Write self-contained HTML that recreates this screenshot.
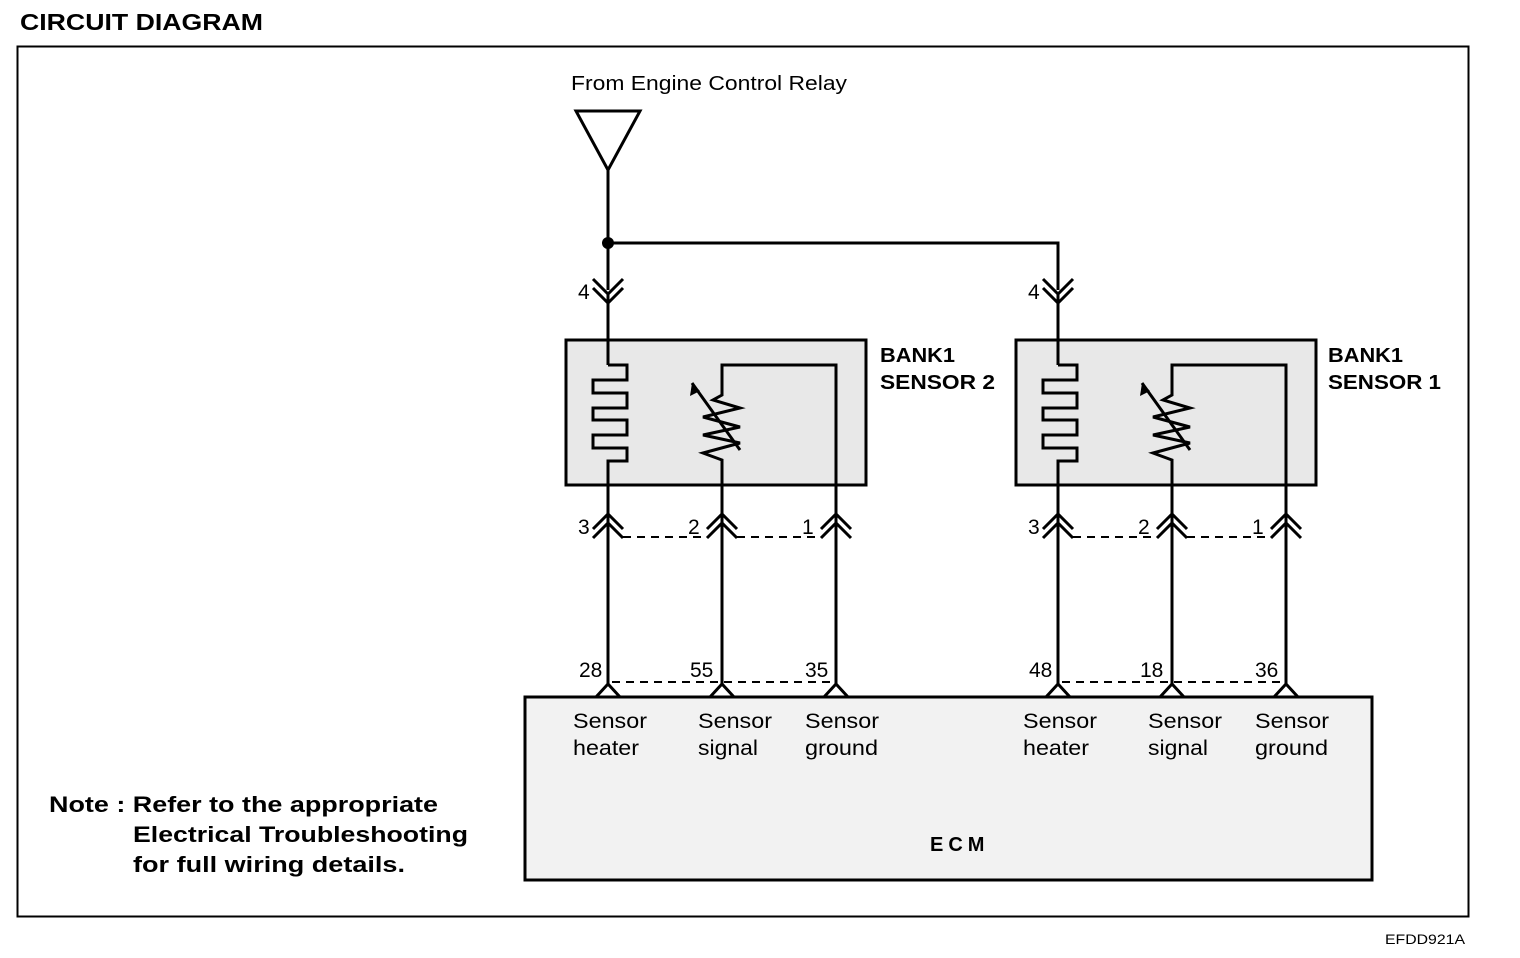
<!DOCTYPE html>
<html><head><meta charset="utf-8"><style>
html,body{margin:0;padding:0;background:#fff;}
svg{display:block;}
text{font-family:"Liberation Sans",Arial,sans-serif;fill:#000;}
</style></head><body>
<svg width="1520" height="958" viewBox="0 0 1520 958" xmlns="http://www.w3.org/2000/svg">
<text x="20" y="30" font-size="23" font-weight="bold" textLength="243" lengthAdjust="spacingAndGlyphs">CIRCUIT DIAGRAM</text>
<rect x="17.5" y="46.5" width="1451" height="870" fill="none" stroke="#000" stroke-width="2"/>
<text x="571" y="90" font-size="20" textLength="276" lengthAdjust="spacingAndGlyphs">From Engine Control Relay</text>
<polygon points="576,111 640,111 608,170" fill="none" stroke="#000" stroke-width="3"/>
<g stroke="#000" stroke-width="3" fill="none">
<line x1="608" y1="170" x2="608" y2="290"/>
<polyline points="608,243 1058,243 1058,290"/>
</g>
<circle cx="608" cy="243" r="6" fill="#000"/>
<!-- ECM -->
<rect x="525" y="697" width="847" height="183" fill="#f2f2f2" stroke="#000" stroke-width="3"/>
<text x="930" y="851" font-size="20" font-weight="bold" letter-spacing="5">ECM</text>
<g font-size="21">
<text x="573" y="728" textLength="74" lengthAdjust="spacingAndGlyphs">Sensor</text><text x="573" y="755" textLength="66" lengthAdjust="spacingAndGlyphs">heater</text>
<text x="698" y="728" textLength="74" lengthAdjust="spacingAndGlyphs">Sensor</text><text x="698" y="755" textLength="60" lengthAdjust="spacingAndGlyphs">signal</text>
<text x="805" y="728" textLength="74" lengthAdjust="spacingAndGlyphs">Sensor</text><text x="805" y="755" textLength="73" lengthAdjust="spacingAndGlyphs">ground</text>
<text x="1023" y="728" textLength="74" lengthAdjust="spacingAndGlyphs">Sensor</text><text x="1023" y="755" textLength="66" lengthAdjust="spacingAndGlyphs">heater</text>
<text x="1148" y="728" textLength="74" lengthAdjust="spacingAndGlyphs">Sensor</text><text x="1148" y="755" textLength="60" lengthAdjust="spacingAndGlyphs">signal</text>
<text x="1255" y="728" textLength="74" lengthAdjust="spacingAndGlyphs">Sensor</text><text x="1255" y="755" textLength="73" lengthAdjust="spacingAndGlyphs">ground</text>
</g>
<g id="s2">
<rect x="566" y="340" width="300" height="145" fill="#e8e8e8" stroke="#000" stroke-width="3"/>
<g stroke="#000" stroke-width="3" fill="none">
<polyline points="593,279 608,294 623,279"/>
<polyline points="593,288 608,303 623,288"/>
<line x1="608" y1="294" x2="608" y2="365"/>
<polyline points="608,365 627,365 627,380 593,380 593,393 627,393 627,408 593,408 593,420 627,420 627,435 593,435 593,448 627,448 627,461 608,461 608,685"/>
<polyline points="722,685 722,460 703,453 740,443 703,435 740,427 703,417 740,408 713,400 722,395 722,365 836,365 836,685"/>
<line x1="740" y1="450" x2="692" y2="383"/>
<polyline points="593,529 608,514 623,529"/>
<polyline points="593,538 608,523 623,538"/>
<polyline points="707,529 722,514 737,529"/>
<polyline points="707,538 722,523 737,538"/>
<polyline points="821,529 836,514 851,529"/>
<polyline points="821,538 836,523 851,538"/>
<polyline points="596,697 608,684 620,697"/>
<polyline points="710,697 722,684 734,697"/>
<polyline points="824,697 836,684 848,697"/>
</g>
<polygon points="692,383 690,396 700,391" fill="#000"/>
<g stroke="#000" stroke-width="2" stroke-dasharray="8,6" fill="none">
<line x1="623" y1="537" x2="707" y2="537"/>
<line x1="737" y1="537" x2="821" y2="537"/>
<line x1="612" y1="682" x2="836" y2="682"/>
</g>
<g font-size="21">
<text x="578" y="299">4</text>
<text x="578" y="534">3</text>
<text x="688" y="534">2</text>
<text x="802" y="534">1</text>
</g>
</g>
<use href="#s2" transform="translate(450,0)"/>
<g font-size="21">
<text x="579" y="677">28</text>
<text x="690" y="677">55</text>
<text x="805" y="677">35</text>
<text x="1029" y="677">48</text>
<text x="1140" y="677">18</text>
<text x="1255" y="677">36</text>
</g>
<g font-size="20" font-weight="bold">
<text x="880" y="362" textLength="75" lengthAdjust="spacingAndGlyphs">BANK1</text><text x="880" y="389" textLength="115" lengthAdjust="spacingAndGlyphs">SENSOR 2</text>
<text x="1328" y="362" textLength="75" lengthAdjust="spacingAndGlyphs">BANK1</text><text x="1328" y="389" textLength="113" lengthAdjust="spacingAndGlyphs">SENSOR 1</text>
</g>
<g font-size="22" font-weight="bold">
<text x="49" y="812" textLength="389" lengthAdjust="spacingAndGlyphs">Note : Refer to the appropriate</text>
<text x="133" y="842" textLength="335" lengthAdjust="spacingAndGlyphs">Electrical Troubleshooting</text>
<text x="133" y="872" textLength="272" lengthAdjust="spacingAndGlyphs">for full wiring details.</text>
</g>
<text x="1385" y="944" font-size="14" textLength="80" lengthAdjust="spacingAndGlyphs">EFDD921A</text>
</svg>
</body></html>
